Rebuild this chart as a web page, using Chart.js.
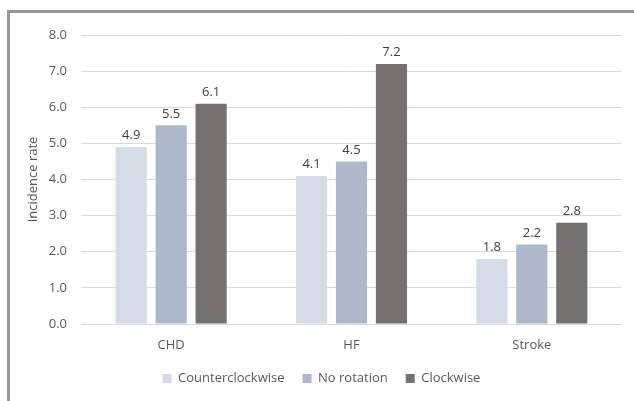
<!DOCTYPE html>
<html>
<head>
<meta charset="utf-8">
<script src="https://cdn.jsdelivr.net/npm/chart.js@4"></script>
<style>
  html, body { margin: 0; padding: 0; background: #fff; overflow: hidden; }
  #wrap { position: relative; width: 634px; height: 401px; }
  #frame { position: absolute; left: 7px; top: 10px; width: 700px; height: 500px;
           border: 3px solid #969696; box-sizing: border-box; }
  canvas { position: absolute; left: 0; top: 0; }
</style>
</head>
<body>
<div id="wrap">
  <div id="frame"></div>
  <canvas id="c" width="634" height="401"></canvas>
</div>
<script>
// Incidence rate by outcome and rotation direction
const categories = ['CHD', 'HF', 'Stroke'];
const seriesNames = ['Counterclockwise', 'No rotation', 'Clockwise'];
const counterclockwise = [4.9, 4.1, 1.8];
const noRotation = [5.5, 4.5, 2.2];
const clockwise = [6.1, 7.2, 2.8];
const yTicks = [0, 1, 2, 3, 4, 5, 6, 7, 8];

const colors = ['#D6DCE5', '#ADB9CA', '#767171'];
const FONT = "'Open Sans', sans-serif";
const SIZE = 13;

// Writes each bar's value just above it
const valueLabels = {
  id: 'valueLabels',
  afterDatasetsDraw(chart) {
    const ctx = chart.ctx;
    ctx.save();
    ctx.font = SIZE + "px " + FONT;
    ctx.fillStyle = '#404040';
    ctx.textAlign = 'center';
    ctx.textBaseline = 'bottom';
    chart.data.datasets.forEach((ds, di) => {
      chart.getDatasetMeta(di).data.forEach((bar, i) => {
        ctx.fillText(ds.data[i].toFixed(1), bar.x, bar.y - 5);
      });
    });
    ctx.restore();
  }
};

new Chart(document.getElementById('c'), {
  type: 'bar',
  data: {
    labels: categories,
    datasets: [
      { label: seriesNames[0], data: counterclockwise, backgroundColor: colors[0] },
      { label: seriesNames[1], data: noRotation, backgroundColor: colors[1] },
      { label: seriesNames[2], data: clockwise, backgroundColor: colors[2] }
    ]
  },
  options: {
    responsive: false,
    animation: false,
    devicePixelRatio: 1,
    layout: { padding: { top: 35, left: 21, right: 12, bottom: 6 } },
    datasets: { bar: { categoryPercentage: 0.665, barPercentage: 0.78 } },
    scales: {
      x: {
        afterFit(scale) { scale.height = 30; },
        grid: { display: false, drawTicks: false },
        border: { display: false },
        ticks: { color: '#595959', font: { family: FONT, size: SIZE }, padding: 13 }
      },
      y: {
        min: 0, max: 8,
        afterBuildTicks(scale) { scale.ticks = yTicks.map(v => ({ value: v })); },
        afterFit(scale) { scale.width = 60; },
        grid: { color: '#D9D9D9', lineWidth: 1, drawTicks: false },
        border: { display: false },
        ticks: {
          color: '#595959', font: { family: FONT, size: SIZE }, padding: 14,
          callback: v => Number(v).toFixed(1)
        },
        title: {
          display: true, text: 'Incidence rate', color: '#595959',
          font: { family: FONT, size: SIZE }, padding: { top: 4, bottom: 4 }
        }
      }
    },
    plugins: {
      legend: {
        position: 'bottom',
        labels: {
          color: '#595959', font: { family: FONT, size: SIZE },
          boxWidth: 9, boxHeight: 9, padding: 18
        }
      },
      tooltip: { enabled: false }
    }
  },
  plugins: [valueLabels]
});
</script>
</body>
</html>
